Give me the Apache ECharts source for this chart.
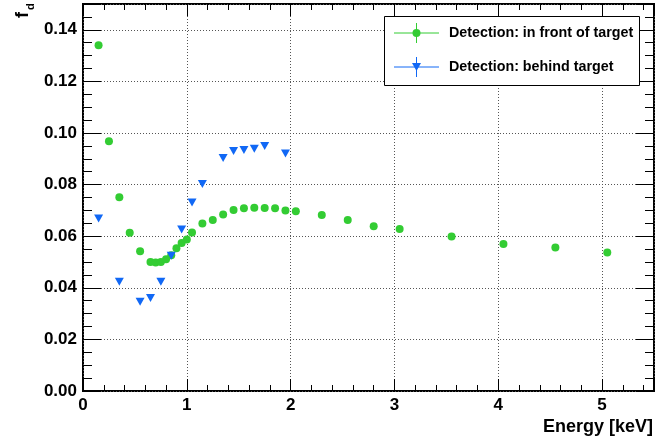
<!DOCTYPE html>
<html>
<head>
<meta charset="utf-8">
<script src="https://cdn.jsdelivr.net/npm/echarts@6/dist/echarts.min.js"></script>
<style>
  html, body { margin: 0; padding: 0; background: #fff; }
  #chart { width: 672px; height: 441px; }
</style>
</head>
<body>
<div id="chart"></div>
<script>
// Detection fraction f_d versus electron energy, two detector placements
const seriesNames = ['Detection: in front of target', 'Detection: behind target'];

const frontEnergy = [0.15, 0.25, 0.35, 0.45, 0.55, 0.65, 0.70, 0.75, 0.80, 0.85, 0.90, 0.95, 1.00, 1.05,
  1.15, 1.25, 1.35, 1.45, 1.55, 1.65, 1.75, 1.85, 1.95, 2.05, 2.30, 2.55, 2.80, 3.05, 3.55, 4.05, 4.55, 5.05];
const frontFd = [0.1340, 0.0968, 0.0751, 0.0613, 0.0542, 0.0500, 0.0498, 0.0500, 0.0511, 0.0526, 0.0553, 0.0574, 0.0587, 0.0614,
  0.0649, 0.0663, 0.0684, 0.0702, 0.0708, 0.0710, 0.0709, 0.0708, 0.0700, 0.0697, 0.0682, 0.0663, 0.0639, 0.0628, 0.0599, 0.0570, 0.0556, 0.0537];

const behindEnergy = [0.15, 0.35, 0.55, 0.65, 0.75, 0.85, 0.95, 1.05, 1.15, 1.35, 1.45, 1.55, 1.65, 1.75, 1.95];
const behindFd = [0.0669, 0.0423, 0.0346, 0.0360, 0.0423, 0.0524, 0.0626, 0.0731, 0.0802, 0.0903, 0.0930, 0.0934, 0.0939, 0.0950, 0.0921];

const xTitle = 'Energy [keV]';
const yTitleMain = 'f';
const yTitleSub = 'd';

const GREEN = '#33cc33';
const BLUE = '#1168f5';
const FONT = 'Liberation Sans, Arial, Helvetica, sans-serif';

const X_MIN = 0, X_MAX = 5.5, X_MAJOR = 1, X_MINOR = 0.2;
const Y_MIN = 0, Y_MAX = 0.15, Y_MAJOR = 0.02, Y_MINOR = 0.005;

function isMultiple(v, step) {
  const r = v / step;
  return Math.abs(r - Math.round(r)) < 1e-6;
}

const gridLine = { show: true, lineStyle: { color: '#555', width: 1, type: [1, 2] } };
const tickStyle = { color: '#000', width: 1 };

function xAxisDef(pos, step, len, labels, split) {
  return {
    type: 'value', position: pos, min: X_MIN, max: X_MAX, interval: step,
    axisLine: { show: false, onZero: false },
    axisTick: { show: true, inside: true, length: len, lineStyle: tickStyle },
    axisLabel: labels ? {
      show: true, margin: 6, color: '#000', fontFamily: FONT, fontWeight: 'bold', fontSize: 17,
      formatter: v => isMultiple(v, X_MAJOR) ? String(Math.round(v)) : ''
    } : { show: false },
    splitLine: split ? gridLine : { show: false }
  };
}

function yAxisDef(pos, step, len, labels, split) {
  return {
    type: 'value', position: pos, min: Y_MIN, max: Y_MAX, interval: step,
    axisLine: { show: false, onZero: false },
    axisTick: { show: true, inside: true, length: len, lineStyle: tickStyle },
    axisLabel: labels ? {
      show: true, margin: 6, color: '#000', fontFamily: FONT, fontWeight: 'bold', fontSize: 17,
      formatter: v => isMultiple(v, Y_MAJOR) ? v.toFixed(2) : ''
    } : { show: false },
    splitLine: split ? gridLine : { show: false }
  };
}

const chart = echarts.init(document.getElementById('chart'), null, { renderer: 'canvas' });

const legendX = 384, legendY = 16, legendW = 255, legendH = 69;
const rowY = [33, 67];
const markX = 416.5;

const option = {
  animation: false,
  backgroundColor: '#fff',
  grid: {
    left: 83, right: 18, top: 4, bottom: 50,
    show: true, borderColor: '#000', borderWidth: 2, backgroundColor: 'transparent'
  },
  xAxis: [
    xAxisDef('bottom', X_MAJOR, 12, true, true),
    xAxisDef('bottom', X_MINOR, 6, false, false),
    xAxisDef('top', X_MAJOR, 12, false, false),
    xAxisDef('top', X_MINOR, 6, false, false)
  ],
  yAxis: [
    yAxisDef('left', Y_MAJOR, 18, true, true),
    yAxisDef('left', Y_MINOR, 9, false, false),
    yAxisDef('right', Y_MAJOR, 18, false, false),
    yAxisDef('right', Y_MINOR, 9, false, false)
  ],
  series: [
    {
      name: seriesNames[0], type: 'scatter', xAxisIndex: 0, yAxisIndex: 0,
      symbol: 'circle', symbolSize: 8,
      itemStyle: { color: GREEN, opacity: 1 },
      data: frontEnergy.map((e, i) => [e, frontFd[i]])
    },
    {
      name: seriesNames[1], type: 'scatter', xAxisIndex: 0, yAxisIndex: 0,
      symbol: 'triangle', symbolRotate: 180, symbolSize: [9, 8],
      itemStyle: { color: BLUE, opacity: 1 },
      data: behindEnergy.map((e, i) => [e, behindFd[i]])
    }
  ],
  graphic: [
    // axis titles
    {
      type: 'text', x: 653, y: 427,
      style: { text: xTitle, align: 'right', verticalAlign: 'middle', fill: '#000',
        font: 'bold 18px ' + FONT }
    },
    {
      type: 'text', x: 23, y: 18, rotation: Math.PI / 2,
      style: { text: yTitleMain, align: 'left', verticalAlign: 'middle', fill: '#000',
        font: 'bold 18px ' + FONT }
    },
    {
      type: 'text', x: 31, y: 10, rotation: Math.PI / 2,
      style: { text: yTitleSub, align: 'left', verticalAlign: 'middle', fill: '#000',
        font: 'bold 11px ' + FONT }
    },
    // legend box
    {
      type: 'rect', z: 100,
      shape: { x: legendX + 0.5, y: legendY + 0.5, width: legendW, height: legendH },
      style: { fill: '#fff', stroke: '#000', lineWidth: 1 }
    },
    // legend entry: in front of target
    { type: 'line', z: 101, shape: { x1: 394, y1: rowY[0], x2: 439, y2: rowY[0] }, style: { stroke: GREEN, lineWidth: 1 } },
    { type: 'line', z: 101, shape: { x1: markX, y1: rowY[0] - 10, x2: markX, y2: rowY[0] + 10 }, style: { stroke: GREEN, lineWidth: 1 } },
    { type: 'circle', z: 102, shape: { cx: markX, cy: rowY[0], r: 4 }, style: { fill: GREEN } },
    {
      type: 'text', z: 102, x: 449, y: rowY[0],
      style: { text: seriesNames[0], align: 'left', verticalAlign: 'middle', fill: '#000', font: 'bold 14.3px ' + FONT }
    },
    // legend entry: behind target
    { type: 'line', z: 101, shape: { x1: 394, y1: rowY[1], x2: 439, y2: rowY[1] }, style: { stroke: BLUE, lineWidth: 1 } },
    { type: 'line', z: 101, shape: { x1: markX, y1: rowY[1] - 10, x2: markX, y2: rowY[1] + 10 }, style: { stroke: BLUE, lineWidth: 1 } },
    { type: 'polygon', z: 102, shape: { points: [[markX - 4.5, rowY[1] - 4], [markX + 4.5, rowY[1] - 4], [markX, rowY[1] + 4]] }, style: { fill: BLUE } },
    {
      type: 'text', z: 102, x: 449, y: rowY[1],
      style: { text: seriesNames[1], align: 'left', verticalAlign: 'middle', fill: '#000', font: 'bold 14.3px ' + FONT }
    }
  ]
};

chart.setOption(option);
</script>
</body>
</html>
